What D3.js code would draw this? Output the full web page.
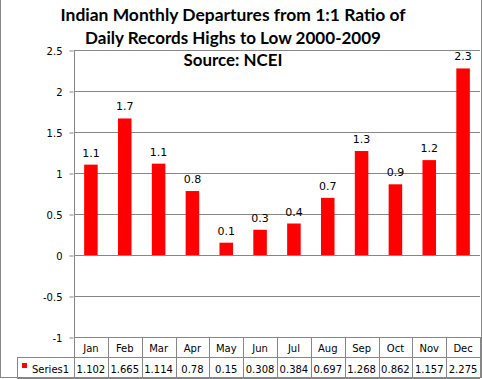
<!DOCTYPE html>
<html>
<head>
<meta charset="utf-8">
<script src="https://cdn.jsdelivr.net/npm/d3@7"></script>
<style>
  body { margin: 0; background: #fff; }
  svg { display: block; }
</style>
</head>
<body>
<script>
const width = 482;
const height = 379;

const months = ["Jan","Feb","Mar","Apr","May","Jun","Jul","Aug","Sep","Oct","Nov","Dec"];
const series1 = [1.102, 1.665, 1.114, 0.78, 0.15, 0.308, 0.384, 0.697, 1.268, 0.862, 1.157, 2.275];
const yTicks = [-1, -0.5, 0, 0.5, 1, 1.5, 2, 2.5];
const titleLines = [
  "Indian Monthly Departures from 1:1 Ratio of",
  "Daily Records Highs to Low 2000-2009",
  "Source: NCEI"
];
const seriesName = "Series1";

const plotL = 74, plotR = 480, plotT = 50, plotB = 337;
const rowH = 20.5;
const grid = "#868686";

const svg = d3.select(document.body).append("svg")
    .attr("width", width)
    .attr("height", height);

// chart frame
svg.append("rect")
    .attr("x", 0.5).attr("y", -2)
    .attr("width", width - 1).attr("height", height - 0.5 + 1)
    .attr("fill", "#fff")
    .attr("stroke", grid);

const y = d3.scaleLinear().domain([-1, 2.5]).range([plotB, plotT]);
const x = d3.scaleBand().domain(months).range([plotL, plotR])
    .paddingInner(0.6).paddingOuter(0.3);
const col = d3.scaleBand().domain(months).range([plotL, plotR]);

// gridlines
svg.append("g")
    .selectAll("line")
    .data(yTicks)
    .join("line")
    .attr("x1", plotL).attr("x2", plotR)
    .attr("y1", d => Math.round(y(d)) + 0.5)
    .attr("y2", d => Math.round(y(d)) + 0.5)
    .attr("stroke", grid);

// y axis
const yAxis = svg.append("g")
    .attr("transform", `translate(${plotL - 0.5},0.5)`)
    .call(d3.axisLeft(y).tickValues(yTicks).tickSize(4).tickSizeOuter(0)
        .tickFormat(d => String(d)));
yAxis.select(".domain").remove();
yAxis.selectAll(".tick line").attr("stroke", grid)
    .attr("transform", d => `translate(0,${Math.round(y(d)) - y(d)})`);
yAxis.selectAll(".tick text")
    .attr("x", -11)
    .attr("dy", "0.36em")
    .attr("font-family", "DejaVu Sans")
    .attr("font-size", 10)
    .attr("fill", "#000");

// bars
svg.append("g")
    .attr("fill", "#ff0000")
    .selectAll("rect")
    .data(series1)
    .join("rect")
    .attr("x", (d, i) => x(months[i]))
    .attr("width", x.bandwidth())
    .attr("y", d => y(Math.max(0, d)))
    .attr("height", d => Math.abs(y(d) - y(0)));

// data labels
const fmt = d3.format(".1f");
svg.append("g")
    .selectAll("text")
    .data(series1)
    .join("text")
    .attr("x", (d, i) => x(months[i]) + x.bandwidth() / 2)
    .attr("y", d => y(d) - 8)
    .attr("text-anchor", "middle")
    .attr("font-family", "DejaVu Sans")
    .attr("font-size", 11)
    .attr("fill", "#000")
    .text(d => fmt(d));

// data table
const table = svg.append("g").attr("stroke", grid).attr("shape-rendering", "crispEdges");
const r1 = plotB, r2 = plotB + rowH, r3 = plotB + rowH * 2;
table.append("line").attr("x1", 17).attr("x2", plotR).attr("y1", r2).attr("y2", r2);
table.append("line").attr("x1", 17).attr("x2", plotR).attr("y1", r3).attr("y2", r3);
table.append("line").attr("x1", 17).attr("x2", 17).attr("y1", r2).attr("y2", r3);
table.selectAll(".v")
    .data(months.concat(["end"]))
    .join("line")
    .attr("x1", (d, i) => Math.round(plotL + i * col.step()))
    .attr("x2", (d, i) => Math.round(plotL + i * col.step()))
    .attr("y1", (d, i) => i === 0 ? plotT : r1)
    .attr("y2", r3);

svg.append("g")
    .selectAll("text")
    .data(months)
    .join("text")
    .attr("x", d => col(d) + col.bandwidth() / 2)
    .attr("y", r1 + 15)
    .attr("text-anchor", "middle")
    .attr("font-family", "DejaVu Sans")
    .attr("font-size", 10)
    .attr("fill", "#000")
    .text(d => d);

svg.append("g")
    .selectAll("text")
    .data(series1)
    .join("text")
    .attr("x", (d, i) => col(months[i]) + col.bandwidth() / 2)
    .attr("y", r2 + 15)
    .attr("text-anchor", "middle")
    .attr("font-family", "DejaVu Sans")
    .attr("font-size", 10)
    .attr("fill", "#000")
    .text(d => String(d));

svg.append("rect")
    .attr("x", 22).attr("y", r2 + 5.5)
    .attr("width", 5).attr("height", 5)
    .attr("fill", "#ff0000");
svg.append("text")
    .attr("x", 32).attr("y", r2 + 15)
    .attr("font-family", "DejaVu Sans")
    .attr("font-size", 10)
    .attr("fill", "#000")
    .text(seriesName);

// title
const titleW = [345, 296, 99];
svg.append("g")
    .selectAll("text")
    .data(titleLines)
    .join("text")
    .attr("x", 233)
    .attr("y", (d, i) => 21 + i * 22.5)
    .attr("text-anchor", "middle")
    .attr("font-family", "Lato")
    .attr("font-weight", "bold")
    .attr("font-size", 17)
    .attr("fill", "#000")
    .attr("textLength", (d, i) => titleW[i])
    .attr("lengthAdjust", "spacingAndGlyphs")
    .text(d => d);
</script>
</body>
</html>
